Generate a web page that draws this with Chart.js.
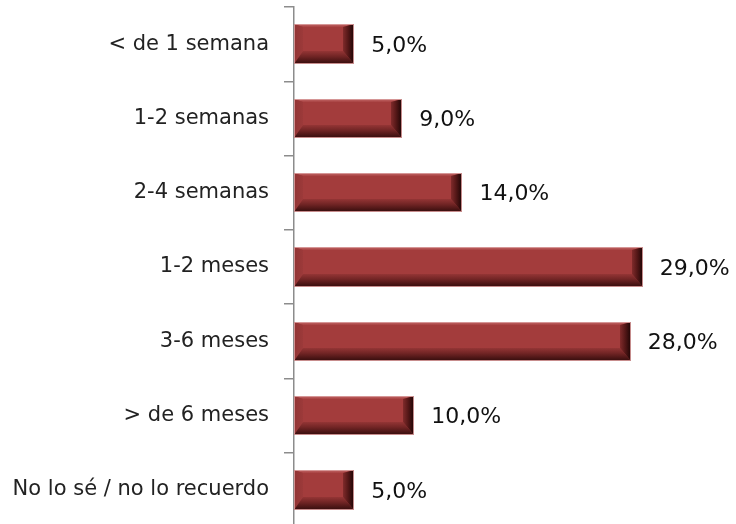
<!DOCTYPE html>
<html>
<head>
<meta charset="utf-8">
<script src="https://cdn.jsdelivr.net/npm/chart.js@4/dist/chart.umd.min.js"></script>
<style>
    html, body { margin: 0; padding: 0; background: #fff; overflow: hidden; }
    #wrap { position: relative; width: 736px; height: 527px; }
</style>
</head>
<body>
<div id="wrap"><canvas id="grafico"></canvas></div>
<script>
// Datos del gráfico
const categorias = ['< de 1 semana', '1-2 semanas', '2-4 semanas', '1-2 meses', '3-6 meses', '> de 6 meses', 'No lo sé / no lo recuerdo'];
const valores = [5, 9, 14, 29, 28, 10, 5];
const etiquetas = ['5,0%', '9,0%', '14,0%', '29,0%', '28,0%', '10,0%', '5,0%'];

const fuente = "'DejaVu Sans', 'Open Sans', sans-serif";

// Plugin para dibujar las barras con efecto biselado
const biselPlugin = {
    id: 'bisel',
    afterDatasetsDraw(chart) {
        const ctx = chart.ctx;
        const meta = chart.getDatasetMeta(0);
        meta.data.forEach(bar => {
            const x0 = Math.round(bar.base);
            const x1 = Math.round(bar.x);
            const y0 = Math.round(bar.y - bar.height / 2);
            const y1 = Math.round(bar.y + bar.height / 2);
            const bl = 9;   // bisel izquierdo
            const br = 11;  // bisel derecho
            const bt = 3;   // bisel superior
            const bb = 13;  // bisel inferior

            ctx.save();
            // cara
            ctx.fillStyle = '#a33c3c';
            ctx.fillRect(x0, y0, x1 - x0, y1 - y0);

            // bisel superior (claro)
            let g = ctx.createLinearGradient(0, y0, 0, y0 + bt);
            g.addColorStop(0, '#c46a6a');
            g.addColorStop(1, '#a84242');
            ctx.fillStyle = g;
            ctx.beginPath();
            ctx.moveTo(x0, y0); ctx.lineTo(x1, y0); ctx.lineTo(x1 - br, y0 + bt); ctx.lineTo(x0 + bl, y0 + bt);
            ctx.closePath(); ctx.fill();

            // bisel izquierdo
            g = ctx.createLinearGradient(x0, 0, x0 + bl, 0);
            g.addColorStop(0, '#923434');
            g.addColorStop(1, '#9c3a3a');
            ctx.fillStyle = g;
            ctx.beginPath();
            ctx.moveTo(x0, y0); ctx.lineTo(x0 + bl, y0 + bt); ctx.lineTo(x0 + bl, y1 - bb); ctx.lineTo(x0, y1);
            ctx.closePath(); ctx.fill();

            // bisel inferior (oscuro)
            g = ctx.createLinearGradient(0, y1 - bb, 0, y1);
            g.addColorStop(0, '#943535');
            g.addColorStop(0.4, '#722525');
            g.addColorStop(1, '#340c0c');
            ctx.fillStyle = g;
            ctx.beginPath();
            ctx.moveTo(x0, y1); ctx.lineTo(x0 + bl, y1 - bb); ctx.lineTo(x1 - br, y1 - bb); ctx.lineTo(x1, y1);
            ctx.closePath(); ctx.fill();

            // bisel derecho (oscuro)
            g = ctx.createLinearGradient(x1 - br, 0, x1, 0);
            g.addColorStop(0, '#802b2b');
            g.addColorStop(0.45, '#561818');
            g.addColorStop(1, '#1c0404');
            ctx.fillStyle = g;
            ctx.beginPath();
            ctx.moveTo(x1, y0); ctx.lineTo(x1, y1); ctx.lineTo(x1 - br, y1 - bb); ctx.lineTo(x1 - br, y0 + bt);
            ctx.closePath(); ctx.fill();

            // borde fino claro
            ctx.strokeStyle = 'rgba(215, 155, 155, 0.9)';
            ctx.lineWidth = 1;
            ctx.strokeRect(x0 + 0.5, y0 + 0.5, x1 - x0 - 1, y1 - y0 - 1);
            ctx.restore();
        });
    }
};

// Plugin para las etiquetas de valor
const etiquetasPlugin = {
    id: 'etiquetasValor',
    afterDatasetsDraw(chart) {
        const ctx = chart.ctx;
        const meta = chart.getDatasetMeta(0);
        ctx.save();
        ctx.font = '22px ' + fuente;
        ctx.fillStyle = '#111';
        ctx.textAlign = 'left';
        ctx.textBaseline = 'middle';
        meta.data.forEach((bar, i) => {
            ctx.fillText(etiquetas[i], bar.x + 17, bar.y + 2);
        });
        ctx.restore();
    }
};

new Chart(document.getElementById('grafico'), {
    type: 'bar',
    data: {
        labels: categorias,
        datasets: [{
            data: valores,
            backgroundColor: 'rgba(0,0,0,0)',
            borderWidth: 0,
            barPercentage: 0.53,
            categoryPercentage: 1
        }]
    },
    options: {
        indexAxis: 'y',
        responsive: true,
        maintainAspectRatio: false,
        animation: false,
        layout: { padding: { top: 7, right: 9, left: 0, bottom: 0 } },
        plugins: {
            legend: { display: false },
            tooltip: { enabled: false }
        },
        scales: {
            x: {
                display: false,
                min: 0,
                max: 36
            },
            y: {
                afterFit(scale) {
                    scale.width = 294;
                    scale.paddingTop = 0;
                    scale.paddingBottom = 0;
                },
                grid: {
                    drawOnChartArea: false,
                    tickLength: 10,
                    color: '#8c8c8c',
                    lineWidth: 1.5
                },
                border: { color: '#8c8c8c', width: 1.5 },
                ticks: {
                    padding: 15,
                    color: '#222',
                    font: { family: fuente, size: 21 }
                }
            }
        }
    },
    plugins: [biselPlugin, etiquetasPlugin]
});
</script>
</body>
</html>
